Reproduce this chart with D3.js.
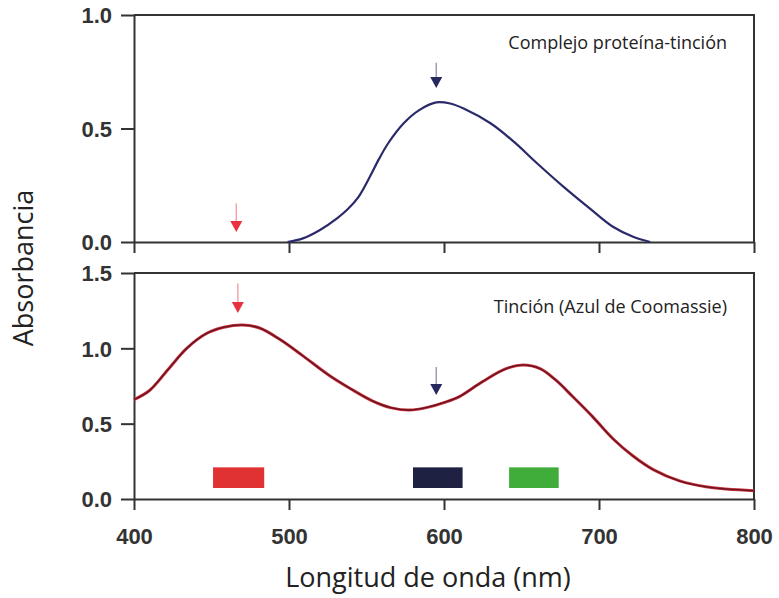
<!DOCTYPE html>
<html>
<head>
<meta charset="utf-8">
<script src="https://cdn.jsdelivr.net/npm/d3@7"></script>
<style>
  body { margin: 0; background: #fff; }
  .tick text { font-family: "Liberation Sans", Arial, sans-serif; font-weight: bold; font-size: 22px; fill: #333; }
  .domain, .tick line { stroke: #333; stroke-width: 2; }
</style>
</head>
<body>
<div id="chart"></div>
<script>
// Complejo proteína-tinción (panel superior)
const complejoNm  = [499, 509, 520, 531, 538, 545, 552, 558, 564, 574, 584, 595, 604, 613, 630, 645, 660, 677, 694, 709, 722, 733];
const complejoAbs = [0, 0.016, 0.053, 0.104, 0.145, 0.20, 0.285, 0.365, 0.435, 0.523, 0.581, 0.615, 0.61, 0.587, 0.523, 0.442, 0.347, 0.244, 0.148, 0.067, 0.023, 0];

// Tinción (Azul de Coomassie) (panel inferior)
const tincionNm  = [400, 410, 422, 434, 447, 458, 470, 481, 494, 509, 526, 540, 554, 566, 578, 590, 600, 610, 625, 640, 651, 662, 672, 683, 696, 709, 722, 735, 752, 770, 800];
const tincionAbs = [0.66, 0.72, 0.86, 1.0, 1.10, 1.14, 1.155, 1.135, 1.06, 0.95, 0.82, 0.73, 0.65, 0.605, 0.59, 0.61, 0.64, 0.68, 0.78, 0.865, 0.889, 0.865, 0.79, 0.68, 0.545, 0.40, 0.285, 0.195, 0.12, 0.08, 0.055];

// colour bands (nm range) and their colours
const bandStart = [451, 580, 642];
const bandEnd   = [484, 612, 674];
const bandColor = ["#e03232", "#1f2142", "#40ad3b"];
const bandLow = 0.073, bandHigh = 0.21;

// arrows: panel, wavelength, absorbance top of shaft, absorbance tip
const arrowPanel = ["top", "top", "bottom", "bottom"];
const arrowNm    = [466, 595, 467, 595];
const arrowFrom  = [0.17, 0.79, 1.43, 0.876];
const arrowTo    = [0.044, 0.678, 1.234, 0.69];
const arrowColor = ["#e8323f", "#26285e", "#e8323f", "#26285e"];

const xTicks = [400, 500, 600, 700, 800];
const yTicksTop = [0, 0.5, 1.0];
const yTicksBottom = [0, 0.5, 1.0, 1.5];

const width = 779, height = 598;
const left = 134, right = 754;

const svg = d3.select("#chart").append("svg")
  .attr("width", width)
  .attr("height", height);

const x = d3.scaleLinear().domain([400, 800]).range([left, right]);
const yTop = d3.scaleLinear().domain([0, 1]).range([242, 15]);
const yBot = d3.scaleLinear().domain([0, 1.5]).range([499, 273]);

function drawFrame(y, yTicks, showXLabels) {
  const [y0, y1] = y.range();
  // box top and right
  svg.append("path")
    .attr("d", `M${left},${y1}H${right}V${y0}`)
    .attr("fill", "none")
    .attr("stroke", "#333")
    .attr("stroke-width", 2);

  const xAxis = d3.axisBottom(x).tickValues(xTicks).tickSize(11).tickPadding(18).tickSizeOuter(0);
  if (!showXLabels) xAxis.tickFormat("");
  svg.append("g")
    .attr("transform", `translate(0,${y0})`)
    .call(xAxis);

  svg.append("g")
    .attr("transform", `translate(${left},0)`)
    .call(d3.axisLeft(y).tickValues(yTicks).tickFormat(d3.format(".1f")).tickSize(13).tickPadding(9).tickSizeOuter(0))
    .selectAll(".tick text").attr("dy", "0.36em");
}

drawFrame(yTop, yTicksTop, false);
drawFrame(yBot, yTicksBottom, true);

// curves
const lineTop = d3.line()
  .x((d, i) => x(complejoNm[i]))
  .y(d => yTop(d))
  .curve(d3.curveCatmullRom.alpha(0.5));

svg.append("path")
  .datum(complejoAbs)
  .attr("fill", "none")
  .attr("stroke", "#2a2a6a")
  .attr("stroke-width", 2.2)
  .attr("d", lineTop);

const lineBot = d3.line()
  .x((d, i) => x(tincionNm[i]))
  .y(d => yBot(d))
  .curve(d3.curveCatmullRom.alpha(0.5));

svg.append("path")
  .datum(tincionAbs)
  .attr("fill", "none")
  .attr("stroke", "#d23a44")
  .attr("stroke-width", 3)
  .attr("d", lineBot);
svg.append("path")
  .datum(tincionAbs)
  .attr("fill", "none")
  .attr("stroke", "#6e1420")
  .attr("stroke-width", 1.6)
  .attr("d", lineBot);

// colour bands
svg.selectAll("rect.band")
  .data(bandStart)
  .enter()
  .append("rect")
  .attr("class", "band")
  .attr("x", (d) => x(d))
  .attr("width", (d, i) => x(bandEnd[i]) - x(d))
  .attr("y", yBot(bandHigh))
  .attr("height", yBot(bandLow) - yBot(bandHigh))
  .attr("fill", (d, i) => bandColor[i]);

// arrows
arrowNm.forEach((nm, i) => {
  const y = arrowPanel[i] === "top" ? yTop : yBot;
  const ax = x(nm), yA = y(arrowFrom[i]), yB = y(arrowTo[i]);
  svg.append("line")
    .attr("x1", ax).attr("x2", ax)
    .attr("y1", yA).attr("y2", yB - 8)
    .attr("stroke", arrowColor[i])
    .attr("stroke-opacity", 0.45)
    .attr("stroke-width", 1.5);
  svg.append("path")
    .attr("d", `M${ax - 6},${yB - 11}L${ax + 6},${yB - 11}L${ax},${yB}Z`)
    .attr("fill", arrowColor[i]);
});

// panel labels
svg.append("text")
  .attr("x", 727).attr("y", 49)
  .attr("text-anchor", "end")
  .attr("font-family", "Open Sans, sans-serif")
  .attr("font-size", 18)
  .attr("fill", "#222")
  .text("Complejo proteína-tinción");

svg.append("text")
  .attr("x", 727).attr("y", 313)
  .attr("text-anchor", "end")
  .attr("font-family", "Open Sans, sans-serif")
  .attr("font-size", 18)
  .attr("fill", "#222")
  .text("Tinción (Azul de Coomassie)");

// axis titles
svg.append("text")
  .attr("x", 428).attr("y", 587)
  .attr("text-anchor", "middle")
  .attr("font-family", "Open Sans, sans-serif")
  .attr("font-size", 27)
  .attr("fill", "#222")
  .text("Longitud de onda (nm)");

svg.append("text")
  .attr("transform", "translate(33,268) rotate(-90)")
  .attr("text-anchor", "middle")
  .attr("font-family", "Open Sans, sans-serif")
  .attr("font-size", 27)
  .attr("fill", "#222")
  .text("Absorbancia");
</script>
</body>
</html>
